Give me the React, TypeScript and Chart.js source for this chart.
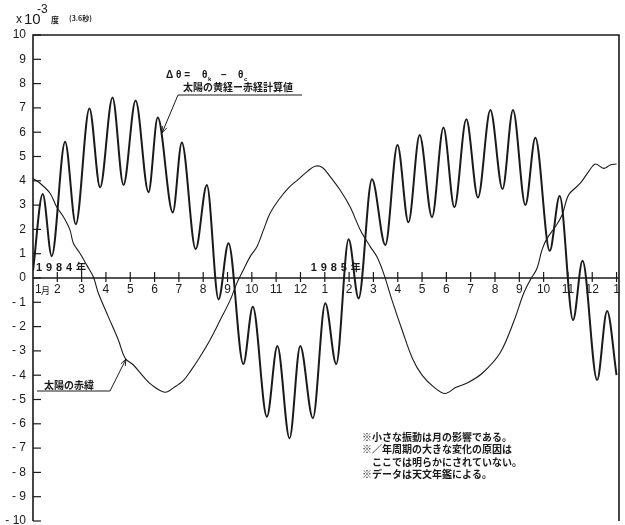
import React, { useEffect, useRef } from "react";
import { Chart, registerables } from "chart.js";

Chart.register(...registerables);

// Month index (0 = Jan 1984) and values in 1e-3 degree
const thickMonths = [0, 0.4, 0.77, 1.32, 1.76, 2.32, 2.76, 3.27, 3.72, 4.22, 4.75, 5.13, 5.75, 6.12, 6.69, 7.15, 7.63, 8.04, 8.65, 9.04, 9.62, 10.05, 10.55, 10.99, 11.51, 12.02, 12.47, 12.98, 13.39, 13.94, 14.49, 14.99, 15.44, 15.9, 16.41, 16.88, 17.33, 17.82, 18.3, 18.81, 19.31, 19.74, 20.25, 20.66, 21.25, 21.66, 22.21, 22.6, 23.2, 23.61, 24.0];
const thickValues = [0.3, 3.46, 0.9, 5.61, 2.21, 6.98, 3.73, 7.43, 3.83, 7.3, 3.53, 6.6, 2.7, 5.58, 1.19, 3.83, -0.88, 1.43, -3.54, -1.18, -5.71, -2.8, -6.6, -2.8, -5.77, -1.04, -3.54, 1.59, -0.84, 4.06, 1.36, 5.47, 2.29, 5.88, 2.5, 6.19, 2.91, 6.53, 3.31, 6.91, 3.66, 6.91, 3.0, 5.77, 1.12, 3.37, -1.73, 0.71, -4.2, -1.36, -4.0];

const thinMonths = [0, 0.29, 0.7, 0.97, 1.25, 1.52, 1.66, 1.93, 2.21, 2.48, 2.69, 3.1, 3.51, 3.79, 4.13, 4.54, 4.88, 5.43, 5.8, 6.2, 6.5, 6.87, 7.28, 7.7, 8.11, 8.38, 8.65, 8.93, 9.21, 9.48, 9.75, 10.1, 10.5, 10.9, 11.3, 11.6, 11.9, 12.2, 12.63, 13.04, 13.46, 13.87, 14.14, 14.42, 14.76, 15.2, 15.6, 16.0, 16.5, 16.95, 17.4, 17.9, 18.5, 19.2, 19.77, 20.18, 20.45, 20.73, 20.93, 21.14, 21.48, 21.76, 22.03, 22.51, 22.85, 23.13, 23.47, 23.74, 24.0];
const thinValues = [4.1, 3.9, 3.49, 2.93, 2.52, 1.98, 1.43, 1.02, 0.53, 0.05, -0.63, -1.6, -2.55, -3.3, -3.58, -4.06, -4.4, -4.7, -4.5, -4.2, -3.8, -3.24, -2.55, -1.73, -0.91, -0.22, 0.33, 0.88, 1.29, 1.98, 2.66, 3.21, 3.7, 4.05, 4.4, 4.6, 4.55, 4.2, 3.62, 2.93, 1.98, 1.29, 0.88, 0.19, -0.9, -2.2, -3.3, -4.0, -4.5, -4.75, -4.5, -4.3, -3.9, -3.1, -1.8, -0.63, -0.08, 0.4, 1.15, 1.63, 2.11, 2.59, 3.42, 3.9, 4.38, 4.69, 4.51, 4.65, 4.69];

const monthTicks = Array.from({ length: 25 }, (_, i) => i);
const monthLabels = ["1月", "2", "3", "4", "5", "6", "7", "8", "9", "10", "11", "12", "1", "2", "3", "4", "5", "6", "7", "8", "9", "10", "11", "12", "1"];
const yTicks = [10, 9, 8, 7, 6, 5, 4, 3, 2, 1, 0, -1, -2, -3, -4, -5, -6, -7, -8, -9, -10];
const yearLabels = [{ m: 0, text: "1 9 8 4 年" }, { m: 11.3, text: "1 9 8 5 年" }];
const noteLines = ["※小さな振動は月の影響である。", "※／年周期の大きな変化の原因は", "　ここでは明らかにされていない。", "※データは天文年鑑による。"];
const thickLabel = "太陽の黄経ー赤経計算値";
const thinLabel = "太陽の赤緯";

const INK = "#1a1a1a";
const NUM = "'Liberation Sans', Arial, sans-serif";
const JP = "'Noto Sans CJK JP', sans-serif";

function arrow(ctx: CanvasRenderingContext2D, x1: number, y1: number, x2: number, y2: number) {
  ctx.beginPath();
  ctx.moveTo(x1, y1);
  ctx.lineTo(x2, y2);
  ctx.stroke();
  const ang = Math.atan2(y2 - y1, x2 - x1);
  const L = 7;
  ctx.beginPath();
  ctx.moveTo(x2, y2);
  ctx.lineTo(x2 - L * Math.cos(ang - 0.35), y2 - L * Math.sin(ang - 0.35));
  ctx.moveTo(x2, y2);
  ctx.lineTo(x2 - L * Math.cos(ang + 0.35), y2 - L * Math.sin(ang + 0.35));
  ctx.stroke();
}

const deco = {
  id: "deco",
  beforeDatasetsDraw(chart: any) {
    const { ctx, chartArea: a, scales } = chart;
    const x = scales.x, y = scales.y;
    ctx.save();
    ctx.strokeStyle = INK;
    ctx.lineWidth = 1.6;
    ctx.beginPath();
    ctx.moveTo(a.left, a.bottom);
    ctx.lineTo(a.left, a.top);
    ctx.lineTo(a.right, a.top);
    ctx.lineTo(a.right, a.bottom);
    ctx.stroke();
    ctx.lineWidth = 1.2;
    ctx.fillStyle = INK;
    ctx.font = `12px ${NUM}`;
    ctx.textAlign = "right";
    ctx.textBaseline = "middle";
    for (const v of yTicks) {
      const py = y.getPixelForValue(v);
      ctx.beginPath();
      ctx.moveTo(a.left, py);
      ctx.lineTo(a.left + 8, py);
      ctx.stroke();
      const t = v < 0 ? "- " + Math.abs(v) : String(v);
      ctx.fillText(t, a.left - 7, py);
    }
    const y0 = y.getPixelForValue(0);
    ctx.lineWidth = 1.6;
    ctx.beginPath();
    ctx.moveTo(a.left, y0);
    ctx.lineTo(a.right, y0);
    ctx.stroke();
    ctx.lineWidth = 1.2;
    ctx.textAlign = "center";
    ctx.textBaseline = "top";
    monthTicks.forEach((m, i) => {
      const px = x.getPixelForValue(m);
      if (i > 0) {
        ctx.beginPath();
        ctx.moveTo(px, y0 - 6);
        ctx.lineTo(px, y0 + 4);
        ctx.stroke();
      }
      const lab = monthLabels[i];
      if (i === 0) {
        ctx.textAlign = "left";
        ctx.font = `12px ${NUM}`;
        ctx.fillText("1", px + 2, y0 + 6);
        ctx.font = `9px ${JP}`;
        ctx.fillText("月", px + 8, y0 + 8);
        ctx.textAlign = "center";
        ctx.font = `12px ${NUM}`;
      } else {
        ctx.fillText(lab, px, y0 + 6);
      }
    });
    ctx.restore();
  },
  afterDraw(chart: any) {
    const { ctx, scales } = chart;
    const x = scales.x, y = scales.y;
    ctx.save();
    ctx.fillStyle = INK;
    ctx.strokeStyle = INK;
    ctx.textAlign = "left";
    ctx.textBaseline = "alphabetic";
    const y0 = y.getPixelForValue(0);
    for (const yl of yearLabels) {
      const px = x.getPixelForValue(yl.m) + 3;
      const parts = yl.text.split(" ");
      let cx = px;
      parts.forEach((p) => {
        ctx.font = p === "年" ? `bold 10px ${JP}` : `bold 11px ${NUM}`;
        ctx.fillText(p, cx, y0 - 7);
        cx += 10;
      });
    }
    ctx.font = `12px ${NUM}`;
    ctx.fillText("x", 16, 23);
    ctx.font = `15px ${NUM}`;
    ctx.fillText("10", 24, 24);
    ctx.font = `12px ${NUM}`;
    ctx.fillText("-3", 37, 13);
    ctx.font = `bold 8px ${JP}`;
    ctx.fillText("度", 51, 23);
    ctx.font = `bold 7px ${JP}`;
    ctx.fillText("(3.6秒)", 69, 21);
    ctx.font = `bold 10px ${NUM}`;
    ctx.fillText("Δ θ =", 166, 78);
    ctx.fillText("θ", 202, 78);
    ctx.font = `bold 6px ${NUM}`;
    ctx.fillText("k", 208, 81);
    ctx.font = `bold 10px ${NUM}`;
    ctx.fillText("−", 221, 78);
    ctx.fillText("θ", 238, 78);
    ctx.font = `bold 6px ${NUM}`;
    ctx.fillText("c", 244, 81);
    ctx.font = `bold 10px ${JP}`;
    ctx.fillText(thickLabel, 183, 91);
    ctx.lineWidth = 1;
    ctx.beginPath();
    ctx.moveTo(178, 95);
    ctx.lineTo(302, 95);
    ctx.stroke();
    arrow(ctx, 178, 95, 162, 133);
    ctx.font = `bold 10px ${JP}`;
    ctx.fillText(thinLabel, 44, 389);
    ctx.beginPath();
    ctx.moveTo(37, 391);
    ctx.lineTo(110, 391);
    ctx.stroke();
    arrow(ctx, 110, 391, 126, 359);
    ctx.font = `bold 10px ${JP}`;
    noteLines.forEach((t, i) => {
      ctx.fillText(t, 362, 441 + i * 12.3);
    });
    ctx.restore();
  },
};

export default function App() {
  const ref = useRef<HTMLCanvasElement>(null);
  useEffect(() => {
    if (!ref.current) return;
    const chart = new Chart(ref.current, {
      type: "line",
      data: {
        datasets: [
          {
            label: "Δθ",
            data: thickMonths.map((m, i) => ({ x: m, y: thickValues[i] })),
            borderColor: INK,
            borderWidth: 2,
            pointRadius: 0,
            cubicInterpolationMode: "monotone",
            fill: false,
          },
          {
            label: thinLabel,
            data: thinMonths.map((m, i) => ({ x: m, y: thinValues[i] })),
            borderColor: INK,
            borderWidth: 1.1,
            pointRadius: 0,
            tension: 0.35,
            fill: false,
          },
        ],
      },
      options: {
        animation: false,
        responsive: false,
        events: [],
        layout: { padding: { left: 33, top: 35, right: 6, bottom: 4 } },
        plugins: { legend: { display: false }, tooltip: { enabled: false } },
        scales: {
          x: { type: "linear", min: 0, max: 24.1, display: false },
          y: { type: "linear", min: -10, max: 10, display: false },
        },
      },
      plugins: [deco],
    });
    return () => chart.destroy();
  }, []);
  return (
    <div style={{ position: "fixed", left: 0, top: 0, width: 625, height: 525, background: "#fff" }}>
      <canvas ref={ref} width={625} height={525} />
    </div>
  );
}
